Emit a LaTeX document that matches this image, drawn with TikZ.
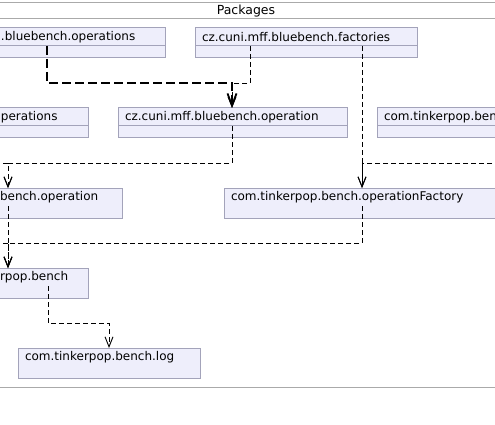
\documentclass[tikz,border=0pt]{standalone}
\usepackage{fontspec}
\setmainfont{DejaVu Sans}
\usetikzlibrary{arrows.meta}

\definecolor{pkgfill}{HTML}{EEEEFB}
\definecolor{pkgline}{HTML}{A3A3BA}
\definecolor{frameline}{HTML}{AAAAAA}

\begin{document}
\begin{tikzpicture}[
    x=1pt, y=-1pt,
    font=\fontsize{12}{14}\selectfont,
    pkg/.style={rectangle, draw=pkgline, fill=pkgfill, line width=1pt, anchor=north west, minimum height=18pt, inner xsep=7pt, inner ysep=0pt, outer sep=0pt, align=left},
    pkgbody/.style={draw=pkgline, fill=pkgfill, line width=1pt},
    dep/.style={draw=black, line width=0.9pt, dash pattern=on 5pt off 3pt, -{Straight Barb[length=10pt, width=8pt]}},
    bolddep/.style={draw=black, line width=1.8pt, dash pattern=on 9pt off 4pt, -{Straight Barb[length=12pt, width=9pt]}}
]
    \clip (0,0) rectangle (495,425);

    % Frame
    \draw[frameline, line width=1pt] (-5,3) -- (500,3);
    \draw[frameline, line width=1pt] (-5,19) -- (500,19);
    \draw[frameline, line width=1pt] (-5,387) -- (500,387);
    \node[font=\fontsize{12.5}{14}\selectfont, inner sep=0pt] (title) at (246,11) {Packages};

    % Packages
    \node[pkg, text width=157pt] (ops) at (-6,28) {.bluebench.operations};
    \node[pkg, text width=208pt] (fac) at (195,28) {cz.cuni.mff.bluebench.factories};
    \node[pkg, text width=80pt] (tops) at (-6,108) {perations};
    \node[pkg, text width=215pt] (op) at (118,108) {cz.cuni.mff.bluebench.operation};
    \node[pkg, text width=140pt] (ben) at (377,108) {com.tinkerpop.ben};
    \node[pkg, text width=115pt] (tbo) at (-7,188) {bench.operation};
    \node[pkg, text width=290pt] (opf) at (224,188) {com.tinkerpop.bench.operationFactory};
    \node[pkg, text width=81pt] (bench) at (-7,268) {rpop.bench};
    \node[pkg, text width=168pt] (log) at (18,348) {com.tinkerpop.bench.log};

    \foreach \n in {ops, fac, tops, op, ben, tbo, opf, bench, log}
        \path[pkgbody] (\n.south west) -- ++(0,12) -| (\n.south east);

    % Bends
    \coordinate (k1) at (47,83);
    \coordinate (k2) at (232,83);
    \coordinate (k3) at (250,83);
    \coordinate (k4) at (362,163);
    \coordinate (k5) at (500,163);
    \coordinate (k6) at (232,163);
    \coordinate (k7) at (8,163);
    \coordinate (k8) at (-5,163);
    \coordinate (k9) at (8,243);
    \coordinate (k10) at (362,243);
    \coordinate (k11) at (-5,243);
    \coordinate (k12) at (48,323);
    \coordinate (k13) at (109,323);

    % Dependencies
    \draw[dep] (fac.south -| k3) -- (k3) -- (k2) -- (op.north -| k2);
    \draw[bolddep] (ops.south -| k1) -- (k1) -- (k2) -- (op.north -| k2);
    \draw[dep] (fac.south -| k4) -- (opf.north -| k4);
    \draw[dep] (k5) -- (k4) -- (opf.north -| k4);
    \draw[dep] (op.south -| k6) -- (k6) -- (k7) -- (tbo.north -| k7);
    \draw[dep] (k8) -- (k7) -- (tbo.north -| k7);
    \draw[dep] (tbo.south -| k9) -- (bench.north -| k9);
    \draw[dep] (opf.south -| k10) -- (k10) -- (k9) -- (bench.north -| k9);
    \draw[dep] (k11) -- (k9) -- (bench.north -| k9);
    \draw[dep] (bench.south -| k12) -- (k12) -- (k13) -- (log.north -| k13);
\end{tikzpicture}
\end{document}
